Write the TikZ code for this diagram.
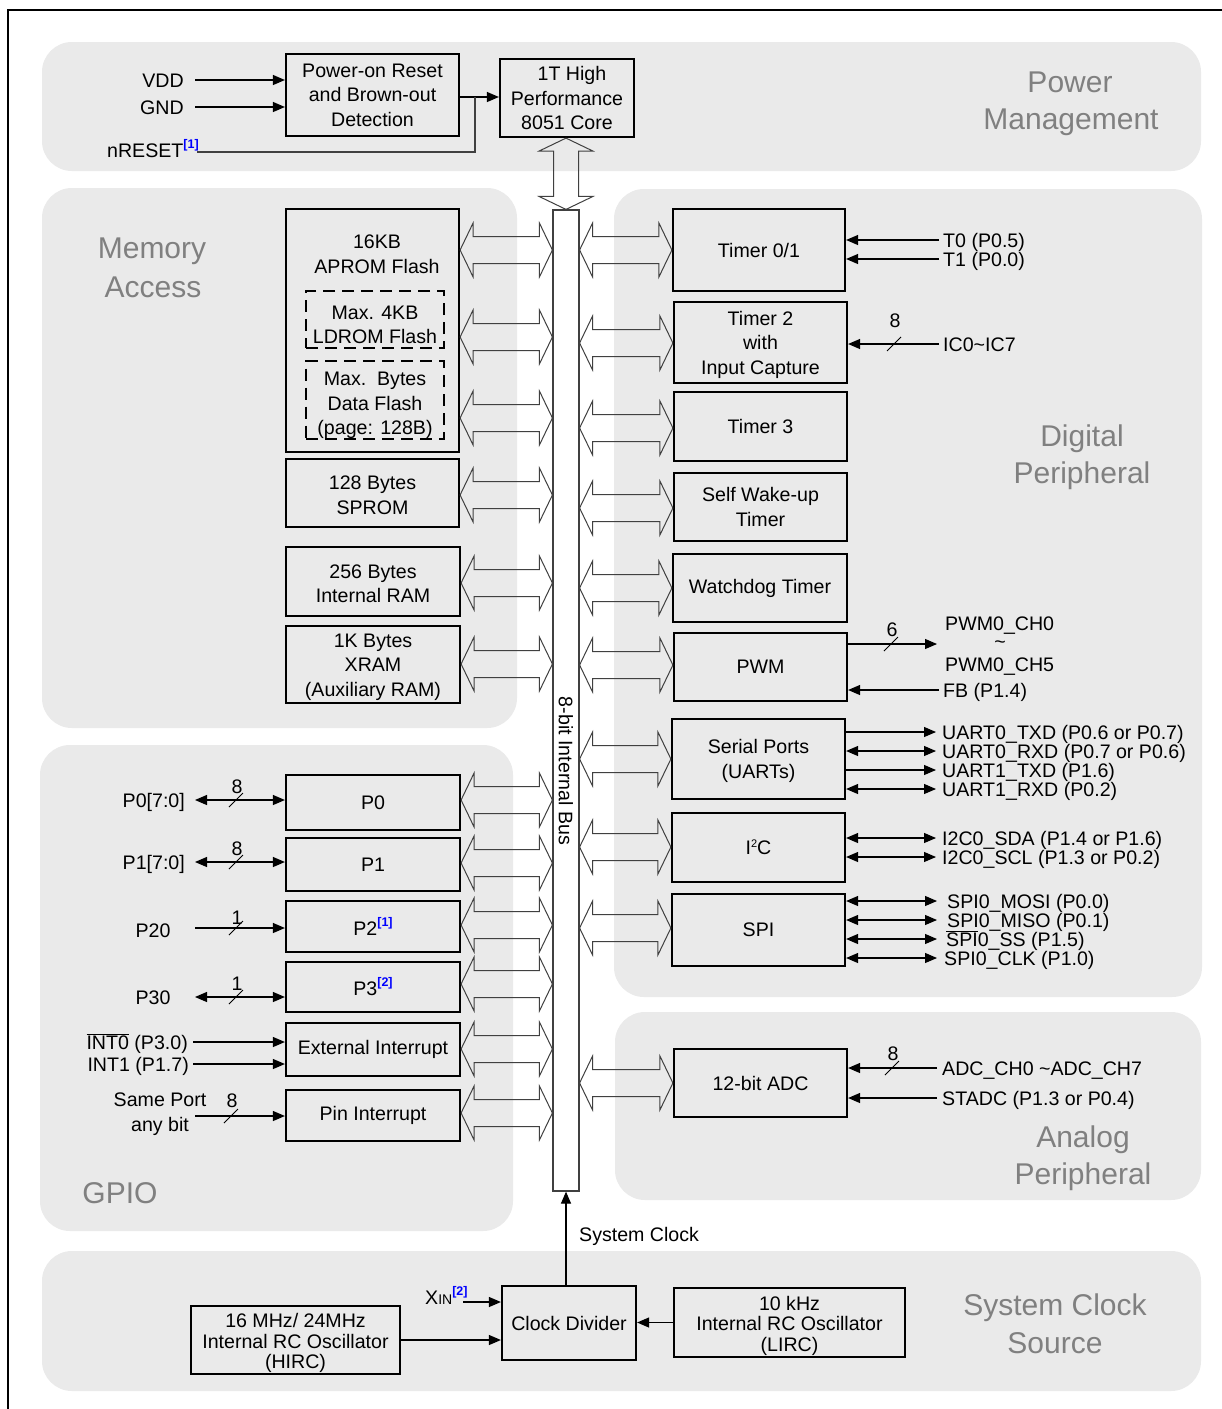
\documentclass[tikz,border=0pt]{standalone}
\usepackage{fontspec}
\setmainfont{Liberation Sans}
\usetikzlibrary{arrows.meta,calc}
\definecolor{regfill}{HTML}{EAEAEA}
\definecolor{reglab}{HTML}{808080}
\definecolor{supblue}{HTML}{0000FF}
\definecolor{fatline}{HTML}{404040}
\newcommand\supref[1]{\raisebox{9pt}{\fontsize{12.5}{12.5}\selectfont\bfseries\color{supblue}[#1]}}
\newcommand\up[1]{\rule{0pt}{#1pt}}
\newcommand\bx[7][]{\node[box,#1,minimum width={#5-#3},minimum height={#6-#4}] (#2) at ({(#3+#5)/2},{(#4+#6)/2}) {#7};}
\newcommand\fatH[2]{\draw[fat] (#1) -- ($(#1)+(13,-27)$) -- ($(#1)+(13,-13.5)$) -- ($(#2)+(-13,-13.5)$) -- ($(#2)+(-13,-27)$) -- (#2) -- ($(#2)+(-13,27)$) -- ($(#2)+(-13,13.5)$) -- ($(#1)+(13,13.5)$) -- ($(#1)+(13,27)$) -- cycle;}
\newcommand\fatL[2]{\fatH{#1.east |- 0,#2}{bus.west |- 0,#2}}
\newcommand\fatR[2]{\fatH{bus.east |- 0,#2}{#1.west |- 0,#2}}
\begin{document}
\begin{tikzpicture}[x=1pt,y=-1pt,
  every node/.style={font=\fontsize{19.6}{24.5}\selectfont, inner sep=0pt},
  region/.style={fill=regfill, draw=none, rounded corners=30pt},
  reglabel/.style={text=reglab, font=\fontsize{30}{36}\selectfont, text height=21.5pt, text depth=0pt},
  box/.style={draw, line width=2.2pt, align=center},
  dbox/.style={draw, line width=2.2pt, dash pattern=on 12pt off 7pt, align=center},
  lab/.style={text height=14pt, text depth=0pt},
  fat/.style={draw=fatline, line width=1pt, line join=miter},
  sig/.style={line width=1.2pt, -{Triangle[length=12pt,width=10pt]}},
  bsig/.style={line width=1.2pt, {Triangle[length=12pt,width=10pt]}-{Triangle[length=12pt,width=10pt]}},
  pics/bmark/.style args={#1/#2}{code={\draw[line width=1pt] (-7,7) -- (7,-7); \node[lab] at (1,#2) {#1};}}
]
\useasboundingbox (0,0) rectangle (1222,1409);
\fill[white] (0,0) rectangle (1222,1409);
% frame
\draw[line width=2pt] (8,1409) -- (8,10) -- (1222,10);
% regions
\fill[region] (42,42) rectangle (1201,171);
\fill[region] (42,188) rectangle (517,728);
\fill[region] (614,189) rectangle (1202,997);
\fill[region] (40,745) rectangle (513,1231);
\fill[region] (615,1012) rectangle (1201,1200);
\fill[region] (42,1251) rectangle (1201,1391);
% region labels
\node[reglabel] (pm1) at (1070,82) {Power};
\node[reglabel] (pm2) at (1071,119) {Management};
\node[reglabel] (ma1) at (152,248) {Memory};
\node[reglabel] (ma2) at (153,287) {Access};
\node[reglabel] (dp1) at (1082,436) {Digital};
\node[reglabel] (dp2) at (1082,473) {Peripheral};
\node[reglabel] (ap1) at (1083,1137) {Analog};
\node[reglabel] (ap2) at (1083,1174) {Peripheral};
\node[reglabel] (gp1) at (120,1193) {GPIO};
\node[reglabel] (sc1) at (1055,1305) {System Clock};
\node[reglabel] (sc2) at (1055,1343) {Source};
% bus
\node[draw=fatline, line width=1.2pt, fill=white, minimum width=26, minimum height=981] (bus) at (566,700.5) {};
\node[rotate=-90] (buslab) at (566,771) {8-bit Internal Bus};
% power
\bx{por}{286}{54}{459}{136}{Power-on Reset\\and Brown-out\\Detection}
\bx{core}{500}{59}{634}{137}{\hspace*{10pt}1T High\\Performance\\8051 Core}
\node[lab, anchor=east] (vdd) at (184,80) {VDD};
\node[lab, anchor=east] (gnd) at (184,107) {GND};
\draw[sig] ([xshift=11]vdd.east) -- (por.west |- vdd.east);
\draw[sig] ([xshift=11]gnd.east) -- (por.west |- gnd.east);
\node[lab, anchor=west] (nrst) at (107,150) {nRESET\supref{1}};
\coordinate (nrs) at (197,152);
\coordinate (jn) at (475,97);
\draw[sig] (por.east |- jn) -- (core.west |- jn);
\draw[line width=1.2pt, draw=black!75] (nrs) -| (jn);
\coordinate (ctip) at (bus.north |- core.south);
\draw[fat] (ctip) -- ($(ctip)+(27,13)$) -- ($(ctip)+(12.5,13)$) -- ($(bus.north)+(12.5,-13)$) -- ($(bus.north)+(27,-13)$) -- (bus.north) -- ($(bus.north)+(-27,-13)$) -- ($(bus.north)+(-12.5,-13)$) -- ($(ctip)+(-12.5,13)$) -- ($(ctip)+(-27,13)$) -- cycle;
% memory
\bx{aprom}{286}{209}{459}{452}{}
\node[align=center] (aptxt) at (377,254) {16KB\\APROM Flash};
\node[dbox, minimum width=138, minimum height=57] (ldrom) at (375,319.5) {\up{24.5}Max. 4KB\\LDROM Flash};
\node[dbox, minimum width=138, minimum height=76] (dflash) at (375,400) {\up{24.5}Max.\ \ Bytes\\Data Flash\\(page: 128B)};
\bx{sprom}{286}{459}{459}{527}{\up{18.5}128 Bytes\\SPROM}
\bx{iram}{286}{547}{460}{616}{\up{18.5}256 Bytes\\Internal RAM}
\bx{xram}{286}{626}{460}{703}{\up{18.5}1K Bytes\\XRAM\\(Auxiliary RAM)}
\fatL{aprom}{250}
\fatL{aprom}{337}
\fatL{aprom}{418}
\fatL{sprom}{495}
\fatL{iram}{583}
\fatL{xram}{664}
% gpio
\bx{p0}{286}{775}{460}{830}{P0}
\bx{p1}{286}{838}{460}{891}{P1}
\bx{p2}{286}{901}{460}{952}{P2\supref{1}}
\bx{p3}{286}{962}{460}{1012}{P3\supref{2}}
\bx{extint}{286}{1023}{460}{1076}{External Interrupt}
\bx{pinint}{286}{1090}{460}{1141}{Pin Interrupt}
\fatL{p0}{800}
\fatL{p1}{863}
\fatL{p2}{925}
\fatL{p3}{984}
\fatL{extint}{1049}
\fatL{pinint}{1113}
\node[lab, anchor=east] (p0l) at (185,800) {P0[7:0]};
\draw[bsig] ([xshift=10]p0l.east) -- (p0.west |- p0l.east);
\pic at (236,800) {bmark=8/-14};
\node[lab, anchor=east] (p1l) at (185,862) {P1[7:0]};
\draw[bsig] ([xshift=10]p1l.east) -- (p1.west |- p1l.east);
\pic at (236,862) {bmark=8/-14};
\node[lab] (p20l) at (153,930) {P20};
\coordinate (p20s) at (195,928);
\draw[sig] (p20s) -- (p2.west |- p20s);
\pic at (236,928) {bmark=1/-11};
\node[lab] (p30l) at (153,997) {P30};
\coordinate (p30s) at (195,997);
\draw[bsig] (p30s) -- (p3.west |- p30s);
\pic at (236,997) {bmark=1/-14};
\node[lab, anchor=east] (int0) at (188,1042) {$\overline{\mbox{INT0}}$ (P3.0)};
\draw[sig] ([xshift=5]int0.east) -- (extint.west |- int0.east);
\node[lab, anchor=east] (int1) at (189,1064) {INT1 (P1.7)};
\draw[sig] ([xshift=4]int1.east) -- (extint.west |- int1.east);
\node[align=center] (samep) at (160,1114) {Same Port\\any bit};
\coordinate (pins) at (195,1116);
\draw[sig] (pins) -- (pinint.west |- pins);
\pic at (231,1116) {bmark=8/-16};
% digital
\bx{tim01}{673}{209}{845}{291}{Timer 0/1}
\bx{tim2}{674}{302}{847}{383}{\up{18.5}Timer 2\\with\\Input Capture}
\bx{tim3}{674}{392}{847}{461}{Timer 3}
\bx{wkt}{674}{473}{847}{541}{Self Wake-up\\Timer}
\bx{wdt}{673}{554}{847}{622}{Watchdog Timer}
\bx{pwm}{674}{633}{847}{701}{PWM}
\bx{uart}{672}{719}{845}{799}{\up{18.5}Serial Ports\\(UARTs)}
\bx{iic}{672}{813}{845}{882}{I\raisebox{7pt}{\fontsize{11}{11}\selectfont 2}C}
\bx{spi}{672}{894}{845}{966}{SPI}
\fatR{tim01}{250}
\fatR{tim2}{343}
\fatR{tim3}{428}
\fatR{wkt}{508}
\fatR{wdt}{588}
\fatR{pwm}{665}
\fatR{uart}{759}
\fatR{iic}{847}
\fatR{spi}{928}
\node[lab, anchor=west] (t0) at (943,240) {T0 (P0.5)};
\draw[sig] ([xshift=-4]t0.west) -- (tim01.east |- t0.west);
\node[lab, anchor=west] (t1) at (943,259) {T1 (P0.0)};
\draw[sig] ([xshift=-4]t1.west) -- (tim01.east |- t1.west);
\node[lab, anchor=west] (ic) at (943,344) {IC0\textasciitilde IC7};
\draw[sig] ([xshift=-4]ic.west) -- (tim2.east |- ic.west);
\pic at (894,344) {bmark=8/-24};
\coordinate (pwmo) at (937,644);
\draw[sig] (pwm.east |- pwmo) -- (pwmo);
\pic at (891,644) {bmark=6/-15};
\node[lab, anchor=west] (pwmch0) at (945,623) {PWM0\_CH0};
\node (tld) at (1000,645) {\textasciitilde};
\node[lab, anchor=west] (pwmch5) at (945,664) {PWM0\_CH5};
\node[lab, anchor=west] (fb) at (943,690) {FB (P1.4)};
\draw[sig] ([xshift=-4]fb.west) -- (pwm.east |- fb.west);
\node[lab, anchor=west] (u0tx) at (942,732) {UART0\_TXD (P0.6 or P0.7)};
\draw[sig] (uart.east |- u0tx.west) -- ([xshift=-6]u0tx.west);
\node[lab, anchor=west] (u0rx) at (942,751) {UART0\_RXD (P0.7 or P0.6)};
\draw[bsig] (uart.east |- u0rx.west) -- ([xshift=-6]u0rx.west);
\node[lab, anchor=west] (u1tx) at (942,770) {UART1\_TXD (P1.6)};
\draw[sig] (uart.east |- u1tx.west) -- ([xshift=-6]u1tx.west);
\node[lab, anchor=west] (u1rx) at (942,789) {UART1\_RXD (P0.2)};
\draw[bsig] (uart.east |- u1rx.west) -- ([xshift=-6]u1rx.west);
\node[lab, anchor=west] (sda) at (942,838) {I2C0\_SDA (P1.4 or P1.6)};
\draw[bsig] (iic.east |- sda.west) -- ([xshift=-6]sda.west);
\node[lab, anchor=west] (scl) at (942,857) {I2C0\_SCL (P1.3 or P0.2)};
\draw[bsig] (iic.east |- scl.west) -- ([xshift=-6]scl.west);
\node[lab, anchor=west] (mosi) at (947,901) {SPI0\_MOSI (P0.0)};
\draw[bsig] (spi.east |- mosi.west) -- ([xshift=-10]mosi.west);
\node[lab, anchor=west] (miso) at (947,920) {SPI0\_MISO (P0.1)};
\draw[bsig] (spi.east |- miso.west) -- ([xshift=-10]miso.west);
\node[lab, anchor=west] (ss) at (946,939) {$\overline{\mbox{SPI}}$0\_SS (P1.5)};
\draw[bsig] (spi.east |- ss.west) -- ([xshift=-9]ss.west);
\node[lab, anchor=west] (clk) at (944,958) {SPI0\_CLK (P1.0)};
\draw[bsig] (spi.east |- clk.west) -- ([xshift=-7]clk.west);
% analog
\bx{adc}{674}{1049}{847}{1117}{12-bit ADC}
\fatR{adc}{1083}
\node[lab, anchor=west] (adcch) at (942,1068) {ADC\_CH0 \textasciitilde ADC\_CH7};
\draw[sig] ([xshift=-5]adcch.west) -- (adc.east |- adcch.west);
\pic at (892,1068) {bmark=8/-15};
\node[lab, anchor=west] (stadc) at (942,1098) {STADC (P1.3 or P0.4)};
\draw[sig] ([xshift=-5]stadc.west) -- (adc.east |- stadc.west);
% clock
\bx[font=\fontsize{19.6}{20.5}\selectfont]{hirc}{191}{1306}{400}{1374}{\up{20.5}16 MHz/ 24MHz\\Internal RC Oscillator\\(HIRC)}
\bx{cdiv}{502}{1286}{636}{1360}{Clock Divider}
\bx[font=\fontsize{19.6}{20.5}\selectfont]{lirc}{674}{1288}{905}{1357}{\up{20.5}10 kHz\\Internal RC Oscillator\\(LIRC)}
\node[lab, anchor=west] (xin) at (425,1297) {X{\fontsize{14}{14}\selectfont IN}\supref{2}};
\coordinate (xins) at (463,1302);
\draw[sig] (xins) -- (cdiv.west |- xins);
\draw[sig] (hirc.east) -- (cdiv.west |- hirc.east);
\draw[sig] (lirc.west) -- (cdiv.east |- lirc.west);
\draw[sig] (cdiv.north -| bus.south) -- (bus.south);
\node[lab, anchor=west] (sysclk) at (579,1234) {System Clock};
\end{tikzpicture}
\end{document}
